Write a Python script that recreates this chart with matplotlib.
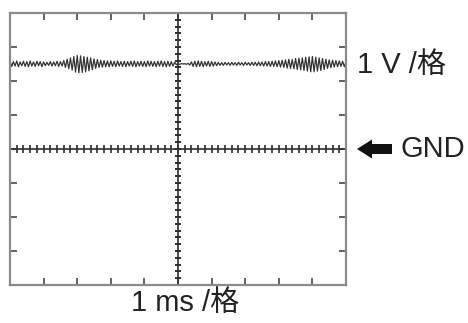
import numpy as np
import matplotlib
matplotlib.use("Agg")
import matplotlib.pyplot as plt
from matplotlib.patches import FancyArrow

plt.rcParams['font.family'] = ['Liberation Sans', 'Noto Sans CJK SC']

# scope settings: 10 divisions of 1 ms, 8 divisions of 1 V, GND at centre
time_divs = 10
volt_divs = 8
sample_step_ms = 0.05

# trace voltage (V), one sample every 0.05 ms
trace_v = [
    2.58, 2.43, 2.57, 2.44, 2.59, 2.42, 2.56, 2.45, 2.58, 2.43, 2.57, 2.42, 2.59, 2.44, 2.56, 2.43, 2.58, 2.45, 2.57, 2.42,
    2.56, 2.45, 2.55, 2.46, 2.57, 2.44, 2.56, 2.45, 2.58, 2.43, 2.57, 2.44, 2.60, 2.40, 2.64, 2.36, 2.68, 2.32, 2.72, 2.26,
    2.75, 2.24, 2.74, 2.25, 2.72, 2.27, 2.70, 2.30, 2.68, 2.33, 2.65, 2.37, 2.63, 2.40, 2.61, 2.41, 2.60, 2.42, 2.59, 2.42,
    2.59, 2.43, 2.58, 2.42, 2.59, 2.44, 2.57, 2.43, 2.58, 2.42, 2.57, 2.44, 2.58, 2.43, 2.59, 2.42, 2.57, 2.44, 2.58, 2.43,
    2.57, 2.42, 2.59, 2.44, 2.58, 2.43, 2.57, 2.42, 2.58, 2.44, 2.59, 2.43, 2.57, 2.42, 2.58, 2.43, 2.57, 2.44, 2.55, 2.48,
    2.51, 2.49, 2.51, 2.50, 2.51, 2.49, 2.52, 2.47, 2.56, 2.43, 2.58, 2.42, 2.59, 2.43, 2.58, 2.42, 2.57, 2.44, 2.58, 2.43,
    2.57, 2.44, 2.56, 2.45, 2.55, 2.46, 2.54, 2.46, 2.55, 2.47, 2.54, 2.46, 2.55, 2.47, 2.54, 2.46, 2.55, 2.47, 2.54, 2.46,
    2.55, 2.47, 2.54, 2.46, 2.55, 2.46, 2.55, 2.45, 2.56, 2.45, 2.56, 2.44, 2.57, 2.44, 2.57, 2.43, 2.58, 2.43, 2.59, 2.42,
    2.60, 2.41, 2.61, 2.40, 2.62, 2.38, 2.64, 2.37, 2.63, 2.36, 2.66, 2.34, 2.67, 2.33, 2.68, 2.31, 2.70, 2.29, 2.71, 2.27,
    2.72, 2.27, 2.70, 2.29, 2.68, 2.31, 2.66, 2.34, 2.64, 2.37, 2.62, 2.39, 2.61, 2.41, 2.60, 2.42, 2.59, 2.43, 2.58, 2.42,
    2.57,
]

volt_label = "1 V /格"
time_label = "1 ms /格"
gnd_label = "GND"

W, H = 468, 323
fig = plt.figure(figsize=(W / 100, H / 100), dpi=100)
ax = fig.add_axes([10 / W, 1 - 285 / H, 336 / W, 272 / H])

half_v = volt_divs / 2
ax.set_xlim(0, time_divs)
ax.set_ylim(-half_v, half_v)

frame_col = "#8a8a8a"
for s in ax.spines.values():
    s.set_color(frame_col)
    s.set_linewidth(1.6)

ax.set_xticks(np.arange(0, time_divs + 1, 1))
ax.set_yticks(np.arange(-half_v, half_v + 1, 1))
ax.tick_params(direction='in', length=5, width=1.3, color="#555555",
               top=True, right=True, labelbottom=False, labelleft=False)

# centre graticule lines with 5 subdivisions per division
line_col = "#2e2e2e"
cx = time_divs / 2
ax.axhline(0, color=line_col, lw=1.2)
ax.axvline(cx, color=line_col, lw=1.2)
sub_x = np.arange(0, time_divs + 0.001, 0.2)
sub_y = np.arange(-half_v, half_v + 0.001, 0.2)
ax.vlines(sub_x, -0.12, 0.12, color=line_col, lw=1.2)
ax.hlines(sub_y, cx - 0.09, cx + 0.09, color=line_col, lw=1.4)

t = np.arange(len(trace_v)) * sample_step_ms
ax.plot(t, trace_v, color="#333333", lw=0.9)

# labels
fig.text(357 / W, 1 - 65 / H, volt_label, fontsize=21, va='center', ha='left', color="#222222")
fig.text(401 / W, 1 - 149 / H, gnd_label, fontsize=21, va='center', ha='left', color="#222222")
fig.text(185 / W, 1 - 303 / H, time_label, fontsize=21, va='center', ha='center', color="#222222")

arrow = FancyArrow(392 / W, 1 - 149 / H, -35 / W, 0, width=10 / H, head_width=19 / H,
                   head_length=15 / W, length_includes_head=True,
                   transform=fig.transFigure, color="#111111", lw=0)
fig.add_artist(arrow)

fig.savefig("out.png", dpi=100)
